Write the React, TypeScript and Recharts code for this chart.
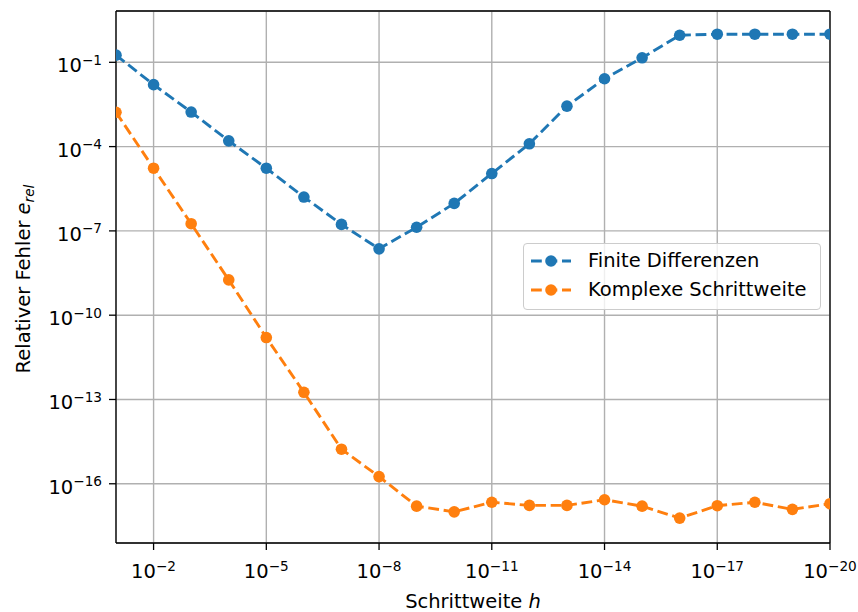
import React from 'react';
import { LineChart, Line, XAxis, YAxis, CartesianGrid, Legend, ReferenceLine } from 'recharts';

// Schrittweiten h (x-Achse, log, absteigend)
const stepSizes = [
  1e-1, 1e-2, 1e-3, 1e-4, 1e-5, 1e-6, 1e-7, 1e-8, 1e-9, 1e-10,
  1e-11, 1e-12, 1e-13, 1e-14, 1e-15, 1e-16, 1e-17, 1e-18, 1e-19, 1e-20,
];

const finiteDiffError = [
  1.8e-1, 1.6e-2, 1.7e-3, 1.6e-4, 1.7e-5, 1.6e-6, 1.7e-7, 2.3e-8, 1.35e-7, 9.5e-7,
  1.1e-5, 1.26e-4, 2.75e-3, 2.6e-2, 1.45e-1, 0.92, 1.0, 1.0, 1.0, 1.0,
];

const complexStepError = [
  1.66e-3, 1.7e-5, 1.8e-7, 1.8e-9, 1.6e-11, 1.8e-13, 1.7e-15, 1.8e-16, 1.6e-17, 1.0e-17,
  2.2e-17, 1.7e-17, 1.7e-17, 2.7e-17, 1.6e-17, 6.0e-18, 1.66e-17, 2.2e-17, 1.23e-17, 1.95e-17,
];

const xTicks = [1e-2, 1e-5, 1e-8, 1e-11, 1e-14, 1e-17, 1e-20];
const yTicks = [1e-1, 1e-4, 1e-7, 1e-10, 1e-13, 1e-16];

const X_DOMAIN: [number, number] = [1e-20, 1e-1];
const Y_DOMAIN: [number, number] = [7.8e-19, 6.7];

const FONT = '"DejaVu Sans", sans-serif';
const FS = 19.5;
const SUP = 13.65;
const BLUE = '#1f77b4';
const ORANGE = '#ff7f0e';
const LW = 2.9;
const DASH = '10.8 4.7';

const data = stepSizes.map((h, i) => ({
  h,
  fd: finiteDiffError[i],
  cs: complexStepError[i],
}));

const powerLabel = (v: number) => `\u2212${-Math.round(Math.log10(v))}`;

const XTick = ({ x, y, payload }: any) => (
  <text x={x} y={y + 28} textAnchor="middle" fill="#000" fontSize={FS} fontFamily={FONT}>
    10
    <tspan fontSize={SUP} dy={-7.5}>
      {powerLabel(payload.value)}
    </tspan>
  </text>
);

const YTick = ({ x, y, payload }: any) => (
  <text x={x - 7} y={y + 10} textAnchor="end" fill="#000" fontSize={FS} fontFamily={FONT}>
    10
    <tspan fontSize={SUP} dy={-7.5}>
      {powerLabel(payload.value)}
    </tspan>
  </text>
);

const YLabel = ({ viewBox }: any) => {
  const cy = viewBox.y + viewBox.height / 2 + 2;
  const cx = 29.5;
  return (
    <text
      x={cx}
      y={cy}
      transform={`rotate(-90, ${cx}, ${cy})`}
      textAnchor="middle"
      fill="#000"
      fontSize={FS}
      fontFamily={FONT}
    >
      Relativer Fehler{' '}
      <tspan fontStyle="italic">e</tspan>
      <tspan fontStyle="italic" fontSize={SUP} dy={4}>
        rel
      </tspan>
    </text>
  );
};

const XLabel = ({ viewBox }: any) => (
  <text
    x={viewBox.x + viewBox.width / 2}
    y={608}
    textAnchor="middle"
    fill="#000"
    fontSize={FS}
    fontFamily={FONT}
  >
    Schrittweite <tspan fontStyle="italic">h</tspan>
  </text>
);

const LegendBox = ({ payload }: any) => (
  <div
    style={{
      boxSizing: 'border-box',
      width: 298,
      height: 67,
      background: 'rgba(255,255,255,0.8)',
      border: '1px solid #cccccc',
      borderRadius: 4,
      padding: '3px 0 0 7px',
      fontFamily: FONT,
      fontSize: FS,
      color: '#000',
    }}
  >
    {(payload || []).map((entry: any) => (
      <div
        key={entry.value}
        style={{ display: 'flex', alignItems: 'center', height: 28.7, lineHeight: '28.7px' }}
      >
        <svg width={40} height={14} style={{ display: 'block' }}>
          <line x1={0} y1={7} x2={40} y2={7} stroke={entry.color} strokeWidth={LW} strokeDasharray={DASH} />
          <circle cx={20} cy={7} r={5.8} fill={entry.color} />
        </svg>
        <span style={{ marginLeft: 17 }}>{entry.value}</span>
      </div>
    ))}
  </div>
);

const App: React.FC = () => {
  return (
    <div style={{ position: 'absolute', left: 0, top: 0, width: 858, height: 612, background: '#fff' }}>
      <LineChart width={858} height={612} data={data} margin={{ top: 11, right: 28, bottom: 0, left: 0 }}>
        <CartesianGrid stroke="#b0b0b0" strokeWidth={1.4} />
        <XAxis
          dataKey="h"
          type="number"
          scale="log"
          domain={X_DOMAIN}
          reversed
          allowDataOverflow
          ticks={xTicks}
          height={69}
          tickSize={7}
          tickMargin={0}
          tick={<XTick />}
          axisLine={{ stroke: '#000', strokeWidth: 1.3 }}
          tickLine={{ stroke: '#000', strokeWidth: 1.3 }}
          label={<XLabel />}
        />
        <YAxis
          type="number"
          scale="log"
          domain={Y_DOMAIN}
          allowDataOverflow
          ticks={yTicks}
          width={116}
          tickSize={7}
          tickMargin={0}
          tick={<YTick />}
          axisLine={{ stroke: '#000', strokeWidth: 1.3 }}
          tickLine={{ stroke: '#000', strokeWidth: 1.3 }}
          label={<YLabel />}
        />
        <ReferenceLine x={X_DOMAIN[0]} stroke="#000" strokeWidth={1.3} />
        <ReferenceLine y={Y_DOMAIN[1]} stroke="#000" strokeWidth={1.3} />
        <Line
          dataKey="fd"
          name="Finite Differenzen"
          stroke={BLUE}
          strokeWidth={LW}
          strokeDasharray={DASH}
          dot={{ r: 5.8, fill: BLUE, stroke: 'none', strokeDasharray: '' }}
          activeDot={false}
          isAnimationActive={false}
        />
        <Line
          dataKey="cs"
          name="Komplexe Schrittweite"
          stroke={ORANGE}
          strokeWidth={LW}
          strokeDasharray={DASH}
          dot={{ r: 5.8, fill: ORANGE, stroke: 'none', strokeDasharray: '' }}
          activeDot={false}
          isAnimationActive={false}
        />
        <Legend
          layout="vertical"
          align="center"
          verticalAlign="middle"
          content={<LegendBox />}
          wrapperStyle={{ left: 523, top: 243, width: 298, height: 67 }}
        />
      </LineChart>
    </div>
  );
};

export default App;
